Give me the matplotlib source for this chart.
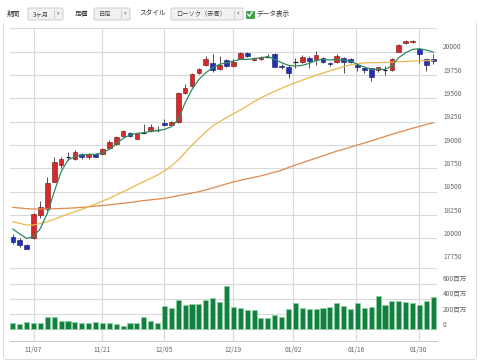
import matplotlib
matplotlib.use('Agg')
import matplotlib.pyplot as plt
from matplotlib.patches import FancyBboxPatch, Rectangle
import numpy as np

plt.rcParams['font.family'] = ['Noto Sans CJK JP', 'DejaVu Sans']

# daily candles (red = up, blue = down)
opens = [18018, 17979, 17926, 18000, 18250, 18311, 18608, 18786, 18873, 18850,
         18908, 18872, 18908, 18900, 18972, 19011, 19093, 19129, 19068, 19131,
         19150, 19160, 19240, 19215, 19250, 19554, 19632, 19775, 19857, 19882,
         19811, 19911, 19847, 19925, 19982, 19911, 19918, 19945, 19972, 19843,
         19836, 19890, 19890, 19936, 19907, 19936, 19882, 19893, 19929, 19925,
         19854, 19822, 19822, 19800, 19811, 19800, 20000, 20090, 20104, 20032,
         19918, 19925]
highs = [18047, 18001, 17940, 18268, 18404, 18661, 18875, 18875, 18929, 18947,
         18918, 18911, 18915, 18965, 19054, 19097, 19160, 19143, 19133, 19225,
         19222, 19204, 19275, 19255, 19570, 19650, 19768, 19829, 19954, 19972,
         19954, 19925, 19918, 19997, 19997, 19943, 19950, 19972, 19982, 19865,
         19854, 19936, 19961, 19954, 20008, 19943, 19890, 19972, 19943, 19936,
         19875, 19840, 19829, 19840, 19847, 19936, 20079, 20129, 20129, 20043,
         19925, 19972]
lows = [17940, 17904, 17882, 17990, 18215, 18290, 18600, 18750, 18840, 18840,
        18850, 18847, 18868, 18893, 18961, 19000, 19090, 19083, 19061, 19125,
        19143, 19143, 19204, 19210, 19235, 19543, 19625, 19765, 19847, 19782,
        19800, 19836, 19836, 19918, 19947, 19900, 19911, 19943, 19836, 19811,
        19722, 19822, 19882, 19829, 19854, 19882, 19847, 19882, 19775, 19882,
        19793, 19775, 19686, 19786, 19747, 19793, 19993, 20079, 20097, 19882,
        19793, 19872]
closes = [17965, 17926, 17886, 18258, 18333, 18597, 18815, 18850, 18877, 18922,
          18872, 18900, 18872, 18958, 19036, 19090, 19154, 19097, 19125, 19135,
          19197, 19163, 19211, 19250, 19554, 19615, 19757, 19811, 19918, 19800,
          19857, 19847, 19890, 19982, 19954, 19936, 19943, 19949, 19840, 19836,
          19768, 19893, 19947, 19900, 19961, 19893, 19865, 19954, 19893, 19893,
          19836, 19800, 19732, 19836, 19808, 19925, 20072, 20115, 20118, 19979,
          19861, 19897]

# volume in millions
volume = [87, 70, 96, 87, 78, 165, 157, 104, 113, 96,
          78, 87, 100, 78, 78, 70, 39, 87, 78, 157,
          104, 78, 309, 274, 383, 322, 330, 330, 383, 405,
          352, 570, 296, 274, 252, 252, 148, 148, 183, 165,
          265, 339, 274, 261, 270, 274, 296, 339, 304, 261,
          339, 278, 296, 435, 322, 370, 370, 352, 339, 313,
          370, 426]

# moving averages as drawn
ma_short = [18100, 18047, 18000, 18018, 18108, 18268, 18500, 18715, 18840, 18875,
            18893, 18900, 18900, 18918, 18954, 19011, 19072, 19108, 19125, 19133,
            19147, 19154, 19168, 19197, 19272, 19454, 19597, 19704, 19775, 19829,
            19865, 19882, 19900, 19918, 19918, 19925, 19936, 19947, 19918, 19882,
            19854, 19847, 19854, 19875, 19907, 19918, 19911, 19918, 19911, 19900,
            19865, 19836, 19811, 19811, 19811, 19847, 19936, 19990, 20025, 20032,
            20018, 19997]
ma_mid = [18179, 18160, 18143, 18143, 18161, 18179, 18204, 18233, 18261, 18286,
          18311, 18340, 18368, 18400, 18429, 18465, 18500, 18536, 18572, 18608,
          18643, 18679, 18722, 18775, 18840, 18920, 19000, 19072, 19140, 19204,
          19250, 19295, 19335, 19375, 19420, 19465, 19505, 19543, 19575, 19610,
          19640, 19668, 19695, 19722, 19748, 19772, 19795, 19818, 19840, 19860,
          19872, 19880, 19882, 19884, 19886, 19888, 19893, 19897, 19900, 19903,
          19905, 19906]
ma_long = [18333, 18325, 18318, 18315, 18315, 18316, 18318, 18320, 18323, 18327,
           18332, 18338, 18345, 18352, 18360, 18368, 18376, 18385, 18395, 18405,
           18413, 18421, 18429, 18443, 18457, 18471, 18486, 18500, 18520, 18540,
           18562, 18584, 18605, 18622, 18638, 18655, 18670, 18690, 18710, 18730,
           18760, 18785, 18810, 18835, 18860, 18885, 18910, 18935, 18955, 18978,
           19000, 19022, 19045, 19068, 19092, 19115, 19137, 19158, 19180, 19200,
           19220, 19240]

tick_pos = [3, 13, 22, 32, 40.7, 49.8, 58.9]
tick_labels = ['11/07', '11/21', '12/05', '12/19', '01/02', '01/16', '01/30']

price_ticks = list(range(17750, 20251, 250))
vol_ticks = [0, 200, 400, 600, 800]
vol_labels = ['0', '200百万', '400百万', '600百万', '']

W, H = 480, 364
fig = plt.figure(figsize=(W / 100, H / 100), dpi=100)
fig.patch.set_facecolor('white')

x = np.arange(len(closes))
xlim = (-0.42, 61.55)
grid_c = '#dadada'
label_c = '#666666'
fs = 4.8

def px_axes(x0, y0, x1, y1):
    return [x0 / W, 1 - y1 / H, (x1 - x0) / W, (y1 - y0) / H]

# background axes for the vertical date grid
ax_bg = fig.add_axes(px_axes(10, 28.4, 437, 341), zorder=0)
ax_bg.set_xlim(*xlim)
ax_bg.axis('off')
for t in tick_pos:
    ax_bg.axvline(t, color=grid_c, lw=0.8)

# price panel
ax = fig.add_axes(px_axes(10, 28.4, 437, 261.7), zorder=1)
ax.set_facecolor('none')
ax.set_xlim(*xlim)
ax.set_ylim(17750, 20250)
for v in price_ticks:
    ax.axhline(v, color=grid_c, lw=0.8, zorder=0)
    if v < 20250:
        ax.annotate(str(v), xy=(1, v), xycoords=('axes fraction', 'data'),
                    xytext=(4.3, 3.2), textcoords='offset points',
                    ha='left', va='center', fontsize=fs, color=label_c)
ax.set_xticks([])
ax.set_yticks([])
for s in ax.spines.values():
    s.set_visible(False)

body_w = 0.68
for i in x:
    o, h, l, c = opens[i], highs[i], lows[i], closes[i]
    ax.vlines(i, l, h, color='#333333', lw=0.6, zorder=2)
    if abs(c - o) <= 5:
        ax.hlines((o + c) / 2, i - body_w / 2, i + body_w / 2, color='#222222', lw=0.9, zorder=3)
        continue
    fc, ec = ('#d8282c', '#6e1414') if c > o else ('#2530b8', '#101860')
    ax.bar(i, abs(c - o), bottom=min(o, c), width=body_w, color=fc,
           edgecolor=ec, lw=0.4, zorder=3)

ax.plot(x, ma_long, color='#e08a4c', lw=0.9, zorder=4)
ax.plot(x, ma_mid, color='#eab84e', lw=0.9, zorder=4)
ax.plot(x, ma_short, color='#2e8b62', lw=0.9, zorder=5)

# volume panel
axv = fig.add_axes(px_axes(10, 268.3, 437, 341), zorder=1)
axv.set_facecolor('none')
axv.set_xlim(*xlim)
axv.set_ylim(-153.5, 800)
for v, lbl in zip(vol_ticks, vol_labels):
    axv.axhline(v, color=grid_c, lw=0.8, zorder=0)
    if lbl:
        axv.annotate(lbl, xy=(1, v), xycoords=('axes fraction', 'data'),
                     xytext=(4.3, 3.2), textcoords='offset points',
                     ha='left', va='center', fontsize=fs, color=label_c)
axv.bar(x, volume, width=0.74, color='#13803f', edgecolor='#8ed3a6', lw=0.5, zorder=2)
axv.set_yticks([])
axv.set_xticks(tick_pos)
axv.set_xticklabels(tick_labels, fontsize=fs, color=label_c)
axv.tick_params(axis='x', length=0, pad=3.5)
for s in axv.spines.values():
    s.set_visible(False)
axv.spines['bottom'].set_visible(True)
axv.spines['bottom'].set_color('#cccccc')
axv.spines['bottom'].set_linewidth(0.8)

# toolbar + frame overlay in pixel coordinates
ov = fig.add_axes([0, 0, 1, 1], zorder=3)
ov.set_xlim(0, W)
ov.set_ylim(H, 0)
ov.axis('off')
ov.set_facecolor('none')

frame_c = '#dedede'
ov.plot([3.3, 3.3], [23, 357], color=frame_c, lw=0.8)
ov.plot([476, 476], [23, 357], color=frame_c, lw=0.8)
ov.plot([5, 474], [359, 359], color=frame_c, lw=0.8)

txt_c = '#333333'
ty = 14
ov.text(7, ty, '期間', fontsize=fs, color=txt_c, va='center')
ov.text(75, ty, '足種', fontsize=fs, color=txt_c, va='center')
ov.text(139, ty, 'スタイル', fontsize=fs, color=txt_c, va='center')
ov.text(256, ty, 'データ表示', fontsize=fs, color=txt_c, va='center')

boxes = [(28, 63, '3ヶ月'), (94, 130, '日足'), (171, 243, 'ローソク（赤青）')]
for x0, x1, lbl in boxes:
    ov.add_patch(FancyBboxPatch((x0, 8), x1 - x0, 12, boxstyle='round,pad=0,rounding_size=1.5',
                                facecolor='#f1f1f1', edgecolor='#c8c8c8', lw=0.6))
    ov.text(x0 + 5, ty, lbl, fontsize=fs - 0.3, color='#444444', va='center')
    ov.plot([x1 - 9, x1 - 9], [10, 18], color='#c8c8c8', lw=0.6)
    ov.text(x1 - 4.5, ty, '▾', fontsize=3.5, color='#888888', ha='center', va='center',
            family=['DejaVu Sans'])

ov.add_patch(Rectangle((246, 10.5), 7.5, 7.5, facecolor='#3aa648', edgecolor='#2e8a3a', lw=0.5))
ov.plot([247.6, 249.4, 252.2], [14.2, 16.2, 12.0], color='white', lw=0.9)

fig.savefig('out.png', dpi=100)
